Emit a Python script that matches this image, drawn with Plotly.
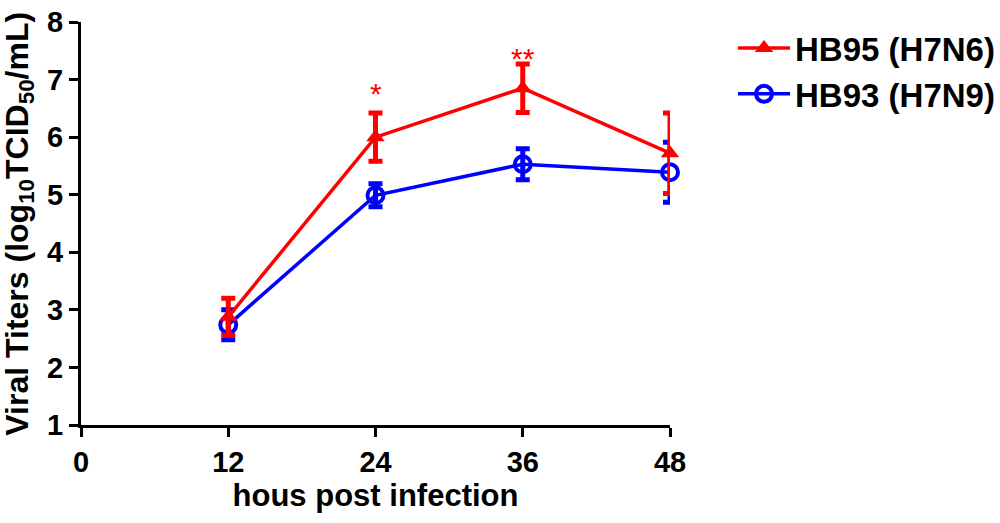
import plotly.graph_objects as go

# hours post infection
hours = [12, 24, 36, 48]

# HB95 (H7N6)
hb95 = [2.88, 6.0, 6.85, 5.72]
hb95_err = [0.32, 0.42, 0.42, 0.70]

# HB93 (H7N9)
hb93 = [2.74, 4.99, 5.53, 5.39]
hb93_err = [0.26, 0.20, 0.27, 0.52]

# significance marks
sig_x = [24, 36]
sig_y = [6.76, 7.36]
sig_txt = ["*", "**"]

RED = "#ff0000"
BLUE = "#0000ff"
FONT = "Liberation Sans"

fig = go.Figure()

fig.add_trace(go.Scatter(
    x=hours, y=hb93, name="<b>HB93 (H7N9)</b>", mode="lines+markers",
    legendgroup="b", cliponaxis=False,
    line=dict(color=BLUE, width=3.5),
    marker=dict(symbol="circle-open", size=16, color=BLUE, line=dict(width=4)),
    error_y=dict(type="data", array=hb93_err, color=BLUE, thickness=5, width=7),
))
fig.add_trace(go.Scatter(
    x=hours, y=hb95, name="<b>HB95 (H7N6)</b>", mode="lines+markers",
    legendgroup="a", cliponaxis=False,
    line=dict(color=RED, width=3.5),
    marker=dict(symbol="triangle-up", size=16, color=RED),
    error_y=dict(type="data", array=hb95_err, color=RED, thickness=5, width=7),
))

for x, y, t in zip(sig_x, sig_y, sig_txt):
    fig.add_annotation(x=x, y=y, text=t, showarrow=False,
                       font=dict(family=FONT, size=30, color=RED))

# y axis title as a rotated annotation so it can sit close to the page edge
fig.add_annotation(
    xref="paper", yref="paper", x=-0.105, y=0.5, xanchor="center", yanchor="middle",
    text="<b>Viral Titers (log<sub>10</sub>TCID<sub>50</sub>/mL)</b>",
    textangle=-90, showarrow=False,
    font=dict(family=FONT, size=32, color="black"),
)

axis_style = dict(
    showline=True, linecolor="black", linewidth=3,
    ticks="outside", ticklen=9, tickwidth=3, tickcolor="black",
    showgrid=False, zeroline=False, automargin=False,
    ticklabeloverflow="allow",
    tickfont=dict(family=FONT, size=29, color="black", weight="bold"),
)

fig.update_xaxes(range=[0, 48], tickvals=[0, 12, 24, 36, 48],
                 title=dict(text="<b>hous post infection</b>",
                            font=dict(family=FONT, size=31, color="black"),
                            standoff=0),
                 **axis_style)
fig.update_yaxes(range=[1, 8], dtick=1, ticklabelstandoff=0, **axis_style)

fig.update_layout(
    width=1000, height=523,
    margin=dict(l=81, r=330, t=22, b=98, autoexpand=False),
    plot_bgcolor="white", paper_bgcolor="white",
    font=dict(family=FONT, color="black"),
    legend=dict(x=1.107, y=1.005, xanchor="left", yanchor="top",
                traceorder="reversed", itemwidth=52, tracegroupgap=9,
                font=dict(family=FONT, size=33, color="black")),
)

# drop the default 8px body margin so the figure fills the window exactly
fig.write_html("out.html", config={"displayModeBar": False},
               post_script="document.body.style.margin='0';")
